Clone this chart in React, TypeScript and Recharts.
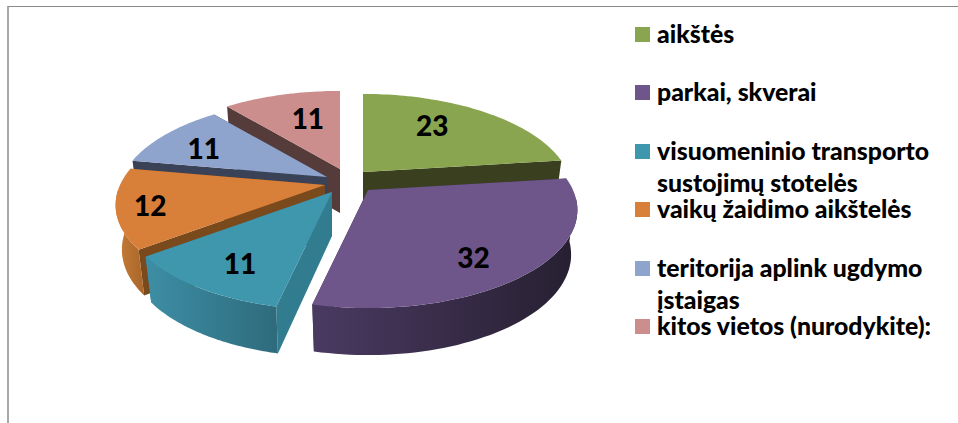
import { PieChart, Pie, Legend } from 'recharts'

const categories = [
  'aikštės',
  'parkai, skverai',
  'visuomeninio transporto sustojimų stotelės',
  'vaikų žaidimo aikštelės',
  'teritorija aplink ugdymo įstaigas',
  'kitos vietos (nurodykite):',
]
const values = [23, 32, 11, 12, 11, 11]

const data = categories.map((name, i) => ({ name, value: values[i] }))

const legendLines = [
  ['aikštės'],
  ['parkai, skverai'],
  ['visuomeninio transporto', 'sustojimų stotelės'],
  ['vaikų žaidimo aikštelės'],
  ['teritorija aplink ugdymo', 'įstaigas'],
  ['kitos vietos (nurodykite):'],
]

const topColors = ['#8aa54f', '#6f568a', '#3f97ae', '#d87f3a', '#8fa4cc', '#cc8e8d']
const faceColors = ['#3a401f', '#3a2c48', '#327c90', '#7a4a1c', '#3a4258', '#563b3b']
const wallFrom = ['#5e7034', '#4a3a62', '#3d8ea5', '#c87d38', '#5f6f8c', '#8a6060']
const wallTo = ['#3a401f', '#261f30', '#2e6b7c', '#a8662a', '#3a4258', '#563b3b']

// how far each slice is pulled out of the pie, and where its number sits
const explode = [[18, -8], [23, 10], [-13, 12], [-20, 5], [-18, -3], [-5, -11]]
const labelRadius = [0.65, 0.75, 0.75, 0.85, 0.72, 0.65]
const labelNudge = [[-11, -5], [-6, 6], [0, 2], [2, 2], [-5, 3], [8, 0]]

// back slices first so the front ones cover them
const paintOrder = [0, 5, 4, 3, 2, 1]

const FONT = 'Lato, sans-serif'
const TILT = 94 / 205
const PERSPECTIVE = 0.204
const DEPTH = 44

const rad = (d: number) => (d * Math.PI) / 180

function project(clock: number, r: number, radius: number) {
  const warped = clock - 6.5 * Math.exp(-Math.pow((clock - 215) / 40, 2))
  const u = Math.sin(rad(warped)) * r
  const v = -Math.cos(rad(warped)) * r
  const s = 1 / (1 - PERSPECTIVE * v)
  return { x: radius * u * s, y: radius * TILT * v * s, v }
}

function Slice3D(props: any) {
  const { cx, cy, outerRadius, startAngle, endAngle, index, only } = props
  if (index !== only) return null
  const ax = cx + explode[index][0]
  const ay = cy + explode[index][1]
  const start = 90 - startAngle
  const end = 90 - endAngle

  const top = (t: number, r = 1) => {
    const p = project(t, r, outerRadius)
    return [ax + p.x, ay + p.y]
  }
  const bottom = (t: number, r = 1) => {
    const p = project(t, r, outerRadius)
    return [ax + p.x * 0.97, ay + p.y + DEPTH + 3 * Math.max(p.v, 0)]
  }
  const pts = (list: number[][]) => list.map((p) => `${p[0].toFixed(1)},${p[1].toFixed(1)}`).join(' ')

  const steps: number[] = []
  for (let i = 0; i <= 60; i++) steps.push(start + ((end - start) * i) / 60)

  const face = (t: number) => pts([top(t, 0), top(t), bottom(t), bottom(t, 0)])
  const faces = [start, end].sort((a, b) => project(a, 1, 1).v - project(b, 1, 1).v)

  const front = steps.filter((t) => project(t, 1, 1).v >= 0.05)
  const lx = top((start + end) / 2, labelRadius[index])
  const gradId = `wall-${index}`

  return (
    <g>
      <defs>
        <linearGradient id={gradId} x1="0" y1="0" x2="1" y2="0">
          <stop offset="0%" stopColor={wallFrom[index]} />
          <stop offset="100%" stopColor={wallTo[index]} />
        </linearGradient>
      </defs>
      {faces.map((t) => (
        <polygon key={t} points={face(t)} fill={faceColors[index]} />
      ))}
      {front.length > 1 && (
        <polygon
          points={pts([...front.map((t) => top(t)), ...front.slice().reverse().map((t) => bottom(t))])}
          fill={`url(#${gradId})`}
        />
      )}
      <polygon points={pts([top(start, 0), ...steps.map((t) => top(t))])} fill={topColors[index]} />
      <text
        x={lx[0] + labelNudge[index][0]}
        y={lx[1] + labelNudge[index][1]}
        textAnchor="middle"
        dominantBaseline="central"
        fontFamily={FONT}
        fontWeight={900}
        fontSize={28}
        fill="#000"
      >
        {values[index]}
      </text>
    </g>
  )
}

function LegendBox() {
  return (
    <div style={{ fontFamily: FONT, fontWeight: 900, fontSize: 24.8, color: '#000' }}>
      {legendLines.map((lines, i) => (
        <div key={i} style={{ position: 'relative', height: 58.4 }}>
          <span
            style={{
              position: 'absolute',
              left: 0,
              top: 0,
              width: 15,
              height: 15,
              background: topColors[i],
            }}
          />
          {lines.map((line, j) => (
            <div
              key={line}
              style={{
                position: 'absolute',
                left: 22,
                top: -6 + j * 32,
                height: 25,
                lineHeight: '25px',
                whiteSpace: 'nowrap',
              }}
            >
              {line}
            </div>
          ))}
        </div>
      ))}
    </div>
  )
}

export default function App() {
  return (
    <div style={{ position: 'absolute', left: 0, top: 0, width: 958, height: 423, background: '#fff', overflow: 'hidden' }}>
      <div
        style={{
          position: 'absolute',
          left: 7,
          top: 6,
          width: 951,
          height: 417,
          borderTop: '1.5px solid #8a8a8a',
          borderLeft: '2.5px solid #a8a8a8',
        }}
      />
      <PieChart width={958} height={423} style={{ position: 'absolute', left: 0, top: 0 }}>
        {paintOrder.map((i) => {
          const draw = (p: any) => <Slice3D {...p} only={i} />
          return (
            <Pie
              key={i}
              data={data}
              dataKey="value"
              nameKey="name"
              cx={340}
              cy={175}
              outerRadius={205}
              startAngle={90}
              endAngle={-270}
              stroke="none"
              legendType="none"
              isAnimationActive={false}
              shape={draw}
              inactiveShape={draw}
            />
          )
        })}
        <Legend
          content={<LegendBox />}
          layout="vertical"
          wrapperStyle={{ position: 'absolute', left: 635, top: 27, width: 320, bottom: 'auto', right: 'auto' }}
        />
      </PieChart>
    </div>
  )
}
